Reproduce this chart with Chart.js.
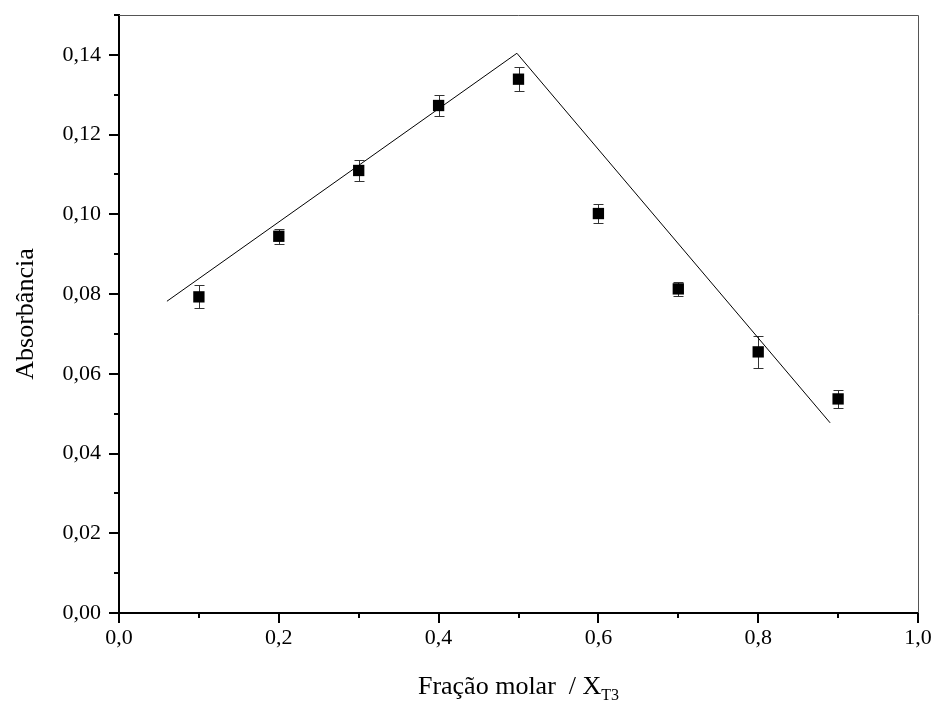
<!DOCTYPE html>
<html>
<head>
<meta charset="utf-8">
<script src="https://cdn.jsdelivr.net/npm/chart.js@4"></script>
<style>
  body { margin: 0; background: #fff; }
  #wrap { width: 932px; height: 706px; position: relative; }
</style>
</head>
<body>
<div id="wrap"><canvas id="chart"></canvas></div>
<script>
// Molar fraction of T3 and measured absorbance (with error bars)
const molarFraction = [0.1, 0.2, 0.3, 0.4, 0.5, 0.6, 0.7, 0.8, 0.9];
const absorbance = [0.0793, 0.0945, 0.1110, 0.1273, 0.1339, 0.1002, 0.0813, 0.0655, 0.0537];
const absorbanceError = [0.0029, 0.0019, 0.0026, 0.0026, 0.0030, 0.0024, 0.0018, 0.0040, 0.0023];

// Two straight lines of the Job plot
const fitLeftX = [0.06, 0.498];
const fitLeftY = [0.0782, 0.1404];
const fitRightX = [0.498, 0.89];
const fitRightY = [0.1404, 0.0477];

const SERIF = '"Liberation Serif", "Times New Roman", serif';

function toPoints(xs, ys) {
  return xs.map((x, i) => ({ x: x, y: ys[i] }));
}

function formatComma(value, digits) {
  return value.toFixed(digits).replace('.', ',');
}

// error bars drawn under the square markers
const errorBarPlugin = {
  id: 'errorBars',
  beforeDatasetsDraw(chart) {
    const ctx = chart.ctx;
    const xScale = chart.scales.x;
    const yScale = chart.scales.y;
    ctx.save();
    ctx.strokeStyle = '#333';
    ctx.lineWidth = 1;
    molarFraction.forEach((x, i) => {
      const px = Math.round(xScale.getPixelForValue(x)) + 0.5;
      const top = Math.round(yScale.getPixelForValue(absorbance[i] + absorbanceError[i])) + 0.5;
      const bottom = Math.round(yScale.getPixelForValue(absorbance[i] - absorbanceError[i])) + 0.5;
      ctx.beginPath();
      ctx.moveTo(px, top);
      ctx.lineTo(px, bottom);
      ctx.moveTo(px - 5, top);
      ctx.lineTo(px + 5, top);
      ctx.moveTo(px - 5, bottom);
      ctx.lineTo(px + 5, bottom);
      ctx.stroke();
    });
    ctx.restore();
  }
};

// frame, minor ticks and axis titles
const framePlugin = {
  id: 'frame',
  afterDraw(chart) {
    const ctx = chart.ctx;
    const area = chart.chartArea;
    const xScale = chart.scales.x;
    const yScale = chart.scales.y;
    ctx.save();

    // thin top and right borders
    ctx.strokeStyle = '#555';
    ctx.lineWidth = 1;
    ctx.beginPath();
    ctx.moveTo(area.left, Math.round(area.top) + 0.5);
    ctx.lineTo(Math.round(area.right) + 0.5, Math.round(area.top) + 0.5);
    ctx.lineTo(Math.round(area.right) + 0.5, area.bottom);
    ctx.stroke();

    // minor ticks
    ctx.strokeStyle = '#000';
    ctx.lineWidth = 2;
    ctx.beginPath();
    xScale.ticks.forEach((t, i) => {
      if (i % 2 === 1) {
        const px = Math.round(xScale.getPixelForValue(t.value));
        ctx.moveTo(px, area.bottom);
        ctx.lineTo(px, area.bottom + 5);
      }
    });
    yScale.ticks.forEach((t, i) => {
      if (i % 2 === 1) {
        const py = Math.round(yScale.getPixelForValue(t.value));
        ctx.moveTo(area.left, py);
        ctx.lineTo(area.left - 5, py);
      }
    });
    ctx.stroke();

    // x axis title with subscript
    ctx.fillStyle = '#000';
    ctx.textBaseline = 'alphabetic';
    ctx.textAlign = 'left';
    const mainText = 'Fração molar  / X';
    const subText = 'T3';
    ctx.font = '26px ' + SERIF;
    const mainW = ctx.measureText(mainText).width;
    ctx.font = '16px ' + SERIF;
    const subW = ctx.measureText(subText).width;
    const startX = (area.left + area.right) / 2 - (mainW + subW) / 2;
    ctx.font = '26px ' + SERIF;
    ctx.fillText(mainText, startX, 694);
    ctx.font = '16px ' + SERIF;
    ctx.fillText(subText, startX + mainW, 700);

    // y axis title
    ctx.font = '26px ' + SERIF;
    ctx.textAlign = 'center';
    ctx.translate(33, (area.top + area.bottom) / 2);
    ctx.rotate(-Math.PI / 2);
    ctx.fillText('Absorbância', 0, 0);

    ctx.restore();
  }
};

const ctx = document.getElementById('chart').getContext('2d');
new Chart(ctx, {
  type: 'scatter',
  data: {
    datasets: [
      {
        label: 'Absorbância',
        data: toPoints(molarFraction, absorbance),
        pointStyle: 'rect',
        pointRadius: 8,
        backgroundColor: '#000',
        borderColor: '#000',
        borderWidth: 0,
        showLine: false
      },
      {
        label: 'fit left',
        data: toPoints(fitLeftX, fitLeftY),
        showLine: true,
        borderColor: '#000',
        borderWidth: 1,
        pointRadius: 0
      },
      {
        label: 'fit right',
        data: toPoints(fitRightX, fitRightY),
        showLine: true,
        borderColor: '#000',
        borderWidth: 1,
        pointRadius: 0
      }
    ]
  },
  options: {
    responsive: true,
    maintainAspectRatio: false,
    animation: false,
    layout: { padding: { top: 15, right: 14, left: 0, bottom: 0 } },
    plugins: {
      legend: { display: false },
      tooltip: { enabled: false }
    },
    scales: {
      x: {
        type: 'linear',
        min: 0,
        max: 1,
        afterFit(scale) {
          scale.height = 93;
          scale.paddingLeft = 0;
          scale.paddingRight = 0;
        },
        ticks: {
          stepSize: 0.1,
          autoSkip: false,
          maxRotation: 0,
          padding: 2,
          color: '#000',
          font: { family: SERIF, size: 22 },
          callback: (value, index) => index % 2 === 0 ? formatComma(value, 1) : ''
        },
        grid: {
          drawOnChartArea: false,
          drawTicks: true,
          tickLength: 10,
          lineWidth: 2,
          color: (c) => c.index % 2 === 0 ? '#000' : 'rgba(0,0,0,0)'
        },
        border: { display: true, color: '#000', width: 2 }
      },
      y: {
        type: 'linear',
        min: 0,
        max: 0.15,
        afterFit(scale) {
          scale.width = 119;
          scale.paddingTop = 0;
          scale.paddingBottom = 0;
        },
        ticks: {
          stepSize: 0.01,
          autoSkip: false,
          padding: 8,
          color: '#000',
          font: { family: SERIF, size: 22 },
          callback: (value, index) => index % 2 === 0 ? formatComma(value, 2) : ''
        },
        grid: {
          drawOnChartArea: false,
          drawTicks: true,
          tickLength: 10,
          lineWidth: 2,
          color: (c) => c.index % 2 === 0 ? '#000' : 'rgba(0,0,0,0)'
        },
        border: { display: true, color: '#000', width: 2 }
      }
    }
  },
  plugins: [errorBarPlugin, framePlugin]
});
</script>
</body>
</html>
